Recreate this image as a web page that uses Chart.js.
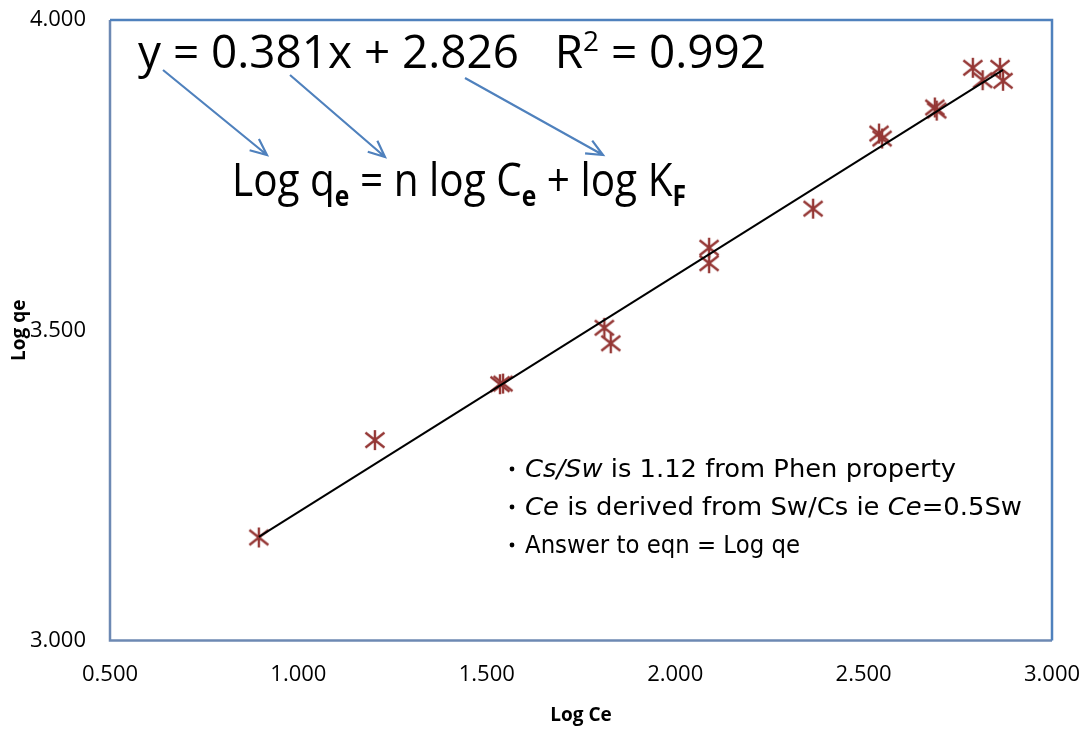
<!DOCTYPE html>
<html>
<head>
<meta charset="utf-8">
<title>Freundlich isotherm – Log qe vs Log Ce</title>
<script src="https://cdn.jsdelivr.net/npm/chart.js@4.4.1/dist/chart.umd.min.js"></script>
<style>
  html, body { margin: 0; padding: 0; background: #fff; }
  #wrap { position: relative; width: 1085px; height: 731px; }
</style>
</head>
<body>
<div id="wrap"><canvas id="isotherm"></canvas></div>
<script>
// ── data ──
const logCe = [0.895, 1.203, 1.535, 1.543, 1.812, 1.829, 2.090, 2.090, 2.366,
               2.541, 2.549, 2.689, 2.694, 2.790, 2.816, 2.862, 2.870];
const logQe = [3.166, 3.323, 3.413, 3.414, 3.504, 3.479, 3.633, 3.608, 3.696,
               3.817, 3.809, 3.859, 3.854, 3.923, 3.903, 3.923, 3.902];

// linear fit as reported on the chart
const SLOPE = 0.381;
const INTERCEPT = 2.826;
const R2 = 0.992;

const xTickValues = [0.5, 1.0, 1.5, 2.0, 2.5, 3.0];
const yTickValues = [3.0, 3.5, 4.0];

const notes = [
  [['Cs/Sw', true], [' is 1.12 from Phen property', false]],
  [['Ce', true], [' is derived from Sw/Cs ie ', false], ['Ce', true], ['=0.5Sw', false]],
  [['Answer to eqn = Log qe', false]]
];

const BLUE = '#4F81BD';
const RED = '#953735';

// Excel-style star marker: vertical bar + X
function starMarker(color) {
  const c = document.createElement('canvas');
  c.width = c.height = 24;
  const g = c.getContext('2d');
  g.strokeStyle = color;
  g.lineWidth = 2.4;
  g.beginPath();
  g.moveTo(12, 2); g.lineTo(12, 22);
  g.moveTo(2.5, 4.5); g.lineTo(21.5, 19.5);
  g.moveTo(21.5, 4.5); g.lineTo(2.5, 19.5);
  g.stroke();
  return c;
}

// text made of runs, squeezed horizontally to a given width
function drawRuns(ctx, runs, x, baseline, width) {
  let total = 0;
  runs.forEach(r => { ctx.font = r.font; total += ctx.measureText(r.t).width; });
  const sx = width / total;
  ctx.save();
  ctx.translate(x, baseline);
  ctx.scale(sx, 1);
  let cx = 0;
  runs.forEach(r => {
    ctx.font = r.font;
    ctx.fillText(r.t, cx, r.dy || 0);
    cx += ctx.measureText(r.t).width;
  });
  ctx.restore();
}

function arrow(ctx, x1, y1, x2, y2) {
  const a = Math.atan2(y2 - y1, x2 - x1);
  const h = 18, spread = 0.42;
  ctx.beginPath();
  ctx.moveTo(x1, y1); ctx.lineTo(x2, y2);
  ctx.moveTo(x2 - h * Math.cos(a - spread), y2 - h * Math.sin(a - spread));
  ctx.lineTo(x2, y2);
  ctx.lineTo(x2 - h * Math.cos(a + spread), y2 - h * Math.sin(a + spread));
  ctx.stroke();
}

const plotFrame = {
  id: 'plotFrame',
  beforeDatasetsDraw(chart) {
    const { ctx, chartArea: a } = chart;
    ctx.save();
    ctx.lineWidth = 2.5;
    ctx.strokeStyle = '#6D89B3';
    ctx.beginPath();
    ctx.moveTo(a.left, a.top); ctx.lineTo(a.left, a.bottom); ctx.lineTo(a.right, a.bottom);
    ctx.stroke();
    ctx.strokeStyle = BLUE;
    ctx.beginPath();
    ctx.moveTo(a.left, a.top); ctx.lineTo(a.right, a.top); ctx.lineTo(a.right, a.bottom);
    ctx.stroke();
    ctx.restore();
  }
};

const annotations = {
  id: 'annotations',
  afterDraw(chart) {
    const ctx = chart.ctx;
    ctx.save();
    ctx.fillStyle = '#000';
    ctx.textBaseline = 'alphabetic';
    ctx.textAlign = 'left';

    const big = '46px "Open Sans"';
    const sup = '28px "Open Sans"';
    const sub = 'bold 28px "Open Sans"';

    drawRuns(ctx, [
      { t: `y = ${SLOPE.toFixed(3)}x + ${INTERCEPT.toFixed(3)}   R`, font: big },
      { t: '2', font: sup, dy: -17 },
      { t: ` = ${R2.toFixed(3)}`, font: big }
    ], 138, 68, 628);

    drawRuns(ctx, [
      { t: 'Log q', font: big },
      { t: 'e', font: sub, dy: 10 },
      { t: ' = n log C', font: big },
      { t: 'e', font: sub, dy: 10 },
      { t: ' + log K', font: big },
      { t: 'F', font: sub, dy: 10 }
    ], 232, 196, 454);

    ctx.strokeStyle = BLUE;
    ctx.lineWidth = 2.2;
    arrow(ctx, 163, 70, 267, 155);
    arrow(ctx, 290, 75, 385, 157);
    arrow(ctx, 465, 78, 603, 155);

    // bullet notes
    const noteBase = [477, 515, 553];
    const noteWidth = [431, 497, 275];
    notes.forEach((line, i) => {
      ctx.beginPath();
      ctx.arc(512, noteBase[i] - 8, 2.4, 0, Math.PI * 2);
      ctx.fill();
      drawRuns(ctx, line.map(([t, it]) => ({
        t, font: (it ? 'italic ' : '') + '24px "DejaVu Sans"'
      })), 525, noteBase[i], noteWidth[i]);
    });
    ctx.restore();
  }
};

const xMin = Math.min(...logCe), xMax = Math.max(...logCe);
const fitLine = [xMin, xMax].map(x => ({ x, y: SLOPE * x + INTERCEPT }));

const tickFont = { family: '"Open Sans", sans-serif', size: 22 };
const titleFont = { family: '"Open Sans", sans-serif', size: 19, weight: 'bold' };

// tick marks are hidden; tickLength only spaces the labels off the frame
const chart = new Chart(document.getElementById('isotherm'), {
  type: 'scatter',
  data: {
    datasets: [
      {
        label: 'Log qe',
        data: logCe.map((x, i) => ({ x, y: logQe[i] })),
        pointStyle: starMarker(RED),
        pointRadius: 10,
        order: 1
      },
      {
        label: 'Linear fit',
        data: fitLine,
        showLine: true,
        borderColor: '#000',
        borderWidth: 2,
        pointRadius: 0,
        order: 0
      }
    ]
  },
  options: {
    responsive: true,
    maintainAspectRatio: false,
    animation: false,
    layout: { padding: { top: 20, right: 33, bottom: 0, left: 0 } },
    plugins: { legend: { display: false }, tooltip: { enabled: false } },
    scales: {
      x: {
        type: 'linear',
        min: 0.5, max: 3.0,
        afterBuildTicks: s => { s.ticks = xTickValues.map(value => ({ value })); },
        afterFit: s => { s.height = 90.5; },
        grid: { display: false, drawTicks: true, tickLength: 21 },
        border: { display: false },
        ticks: { color: '#000', font: tickFont, padding: 0, callback: v => v.toFixed(3) },
        title: { display: true, text: 'Log Ce', color: '#000', font: titleFont, padding: { top: 0, bottom: 4 } }
      },
      y: {
        type: 'linear',
        min: 3.0, max: 4.0,
        afterBuildTicks: s => { s.ticks = yTickValues.map(value => ({ value })); },
        afterFit: s => { s.width = 110; },
        grid: { display: false, drawTicks: true, tickLength: 24 },
        border: { display: false },
        ticks: { color: '#000', font: tickFont, padding: 0, callback: v => v.toFixed(3) },
        title: { display: true, text: 'Log qe', color: '#000', font: titleFont, padding: { top: 8, bottom: 0 } }
      }
    }
  },
  plugins: [plotFrame, annotations]
});
</script>
</body>
</html>
